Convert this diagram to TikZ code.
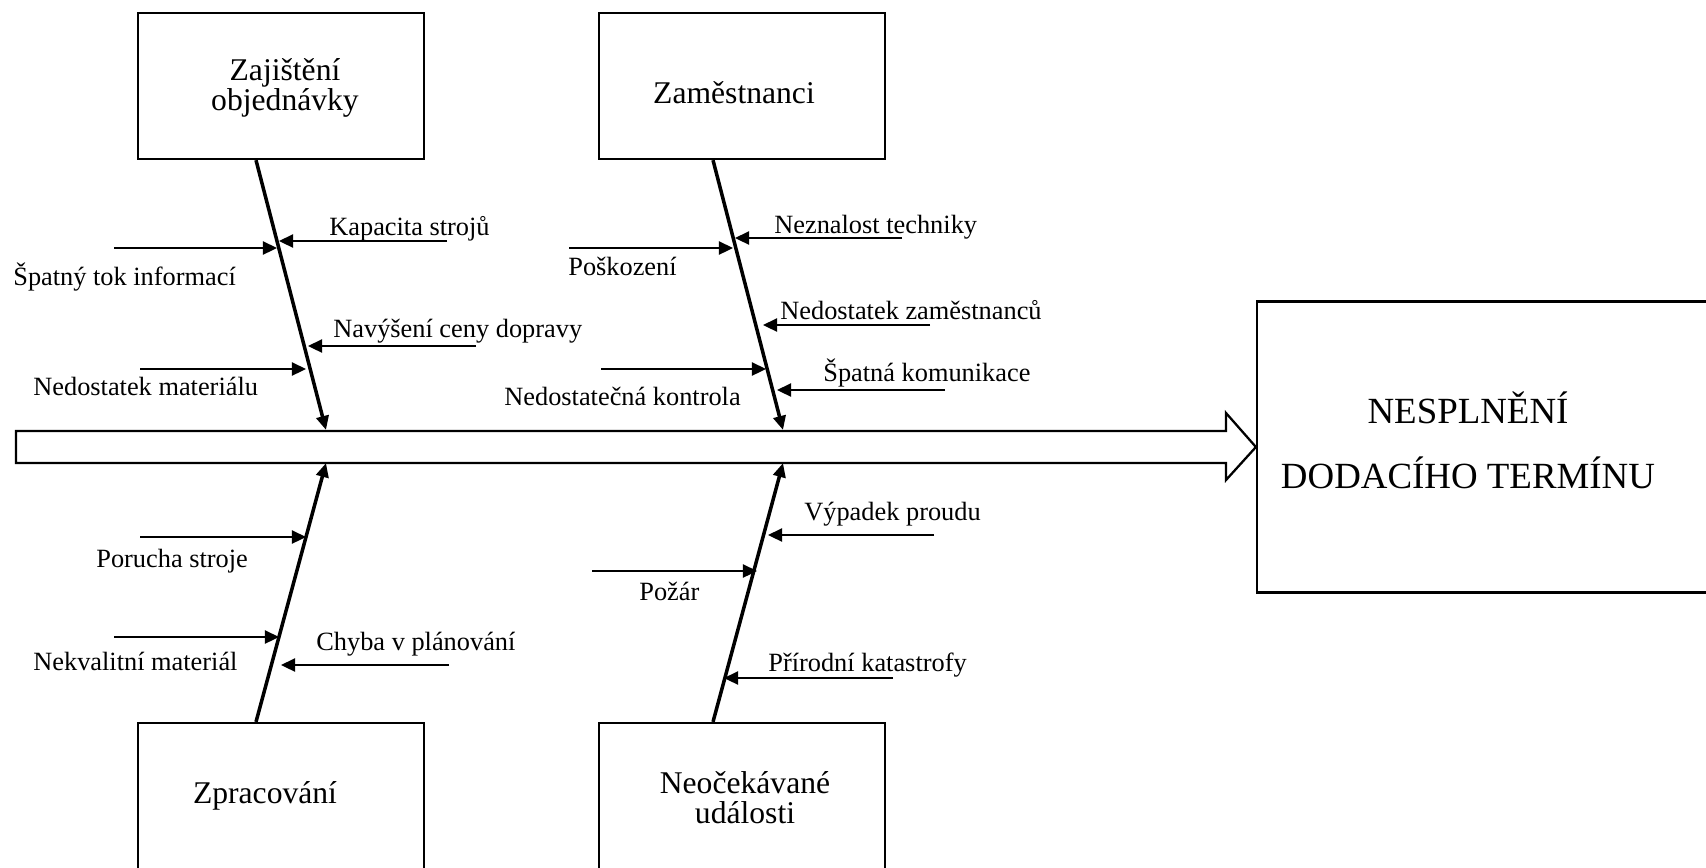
\documentclass[tikz,border=0pt]{standalone}
\usepackage{fontspec}
\setmainfont{Liberation Serif}
\usetikzlibrary{arrows.meta,calc}

\begin{document}
\begin{tikzpicture}[
    x=0.02cm, y=-0.02cm,
    causebox/.style={draw,line width=1.3pt,minimum width=5.72cm,minimum height=2.92cm},
    boxtxt/.style={align=center,inner sep=0pt,font=\fontsize{18}{17}\selectfont},
    bone/.style={line width=2pt,-{Triangle[length=8pt,width=7pt]}},
    cause/.style={line width=1pt,-{Triangle[length=8pt,width=7.5pt]}},
    lbl/.style={anchor=base west,inner sep=0pt,font=\fontsize{15}{18}\selectfont},
    spine/.style={draw,line width=1.3pt}
    ]
    \useasboundingbox (0,0) rectangle (1706,867);
    \node[causebox] (zaj) at (281,86) {};
    \node[causebox] (zam) at (742,86) {};
    \node[causebox] (zpr) at (281,796) {};
    \node[causebox] (neo) at (742,796) {};
    \node[causebox,minimum width=9.2cm,minimum height=5.82cm] (eff) at (1487,447) {};
    \node[boxtxt] (zajtxt) at (285,87.5) {Zajištění\\objednávky};
    \node[boxtxt,anchor=base] (zamtxt) at (734,103) {Zaměstnanci};
    \node[boxtxt,anchor=base] (zprtxt) at (265,803) {Zpracování};
    \node[boxtxt] (neotxt) at (745,798) {Neočekávané\\události};
    \node[boxtxt,font=\fontsize{21}{37}\selectfont] (efftxt) at (1468,440) {NESPLNĚNÍ\\DODACÍHO TERMÍNU};
    \draw[spine] (16,431) -- (1226,431) -- (1226,413) -- (eff.west) -- (1226,480) -- (1226,463) -- (16,463) -- cycle;
    \coordinate (s1) at (326,430);
    \coordinate (s2) at (783,430);
    \coordinate (s3) at (326,463);
    \coordinate (s4) at (783,463);
    \draw[bone] ($(zaj.south)+(-25,0)$) -- (s1);
    \draw[bone] ($(zam.south)+(-29,0)$) -- (s2);
    \draw[bone] ($(zpr.north)+(-25,0)$) -- (s3);
    \draw[bone] ($(neo.north)+(-29,0)$) -- (s4);
    \foreach \n/\sx/\tx/\y in {a1/447/279/241, a2/114/277/248, a3/476/308/346, a4/140/306/369,
        a5/902/735/238, a6/569/733/248, a7/930/763/325, a8/601/766/369, a9/945/777/390,
        a10/140/306/537, a11/114/279/637, a12/449/281/665,
        a13/934/768/535, a14/592/757/571, a15/893/724/678} {
      \coordinate (\n-s) at (\sx,\y);
      \coordinate (\n-t) at (\tx,\y);
      \draw[cause] (\n-s) -- (\n-t);
    }
    \node[lbl] (kapacita) at (329,235) {Kapacita strojů};
    \node[lbl] (tok) at (13,285) {Špatný tok informací};
    \node[lbl] (doprava) at (333,337) {Navýšení ceny dopravy};
    \node[lbl] (material) at (33,395) {Nedostatek materiálu};
    \node[lbl] (technika) at (774,233) {Neznalost techniky};
    \node[lbl] (poskozeni) at (568,275) {Poškození};
    \node[lbl] (zamest) at (780,319) {Nedostatek zaměstnanců};
    \node[lbl] (kontrola) at (504,405) {Nedostatečná kontrola};
    \node[lbl] (komunikace) at (823,381) {Špatná komunikace};
    \node[lbl] (porucha) at (96,567) {Porucha stroje};
    \node[lbl] (nekval) at (33,670) {Nekvalitní materiál};
    \node[lbl] (chyba) at (316,650) {Chyba v plánování};
    \node[lbl] (proud) at (804,520) {Výpadek proudu};
    \node[lbl] (pozar) at (639,600) {Požár};
    \node[lbl] (katastrofy) at (768,671) {Přírodní katastrofy};
\end{tikzpicture}
\end{document}
